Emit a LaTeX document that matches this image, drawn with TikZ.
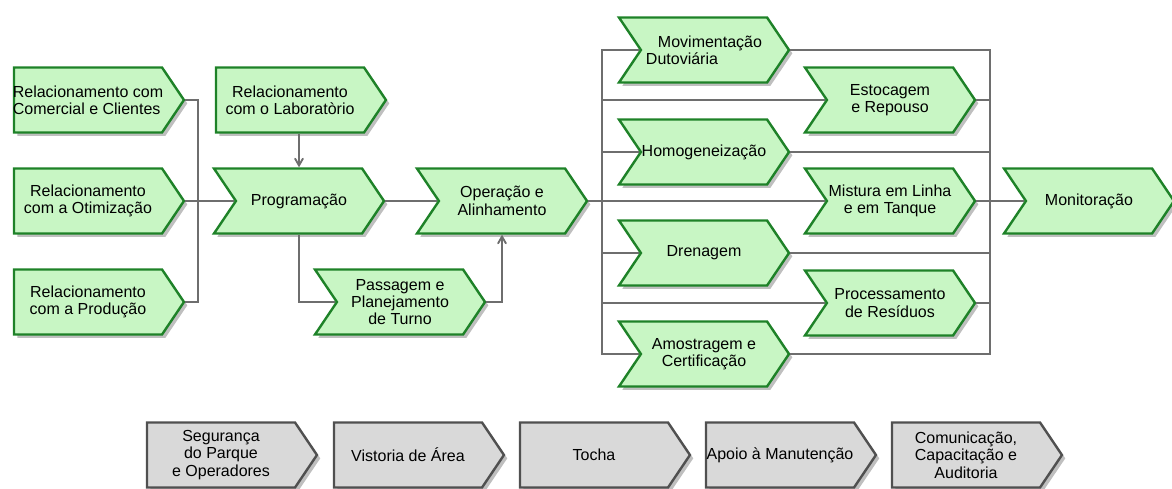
\documentclass[tikz,border=0pt]{standalone}
\usepackage{fontspec}
\setmainfont{Liberation Sans}
\usepackage{tikz}
\usetikzlibrary{shapes.symbols, shadows, arrows, positioning}

\definecolor{funcfill}{RGB}{200,246,196}
\definecolor{funcdraw}{RGB}{30,130,40}
\definecolor{suppfill}{RGB}{217,217,217}
\definecolor{suppdraw}{RGB}{80,80,80}
\definecolor{connline}{RGB}{110,110,110}

\tikzset{
  box/.style={signal, signal to=east, signal pointer angle=112,
    minimum width=127.5pt, minimum height=48.75pt, inner xsep=-14pt, inner ysep=1pt,
    line width=1.8pt, align=center, font=\fontsize{12}{13}\selectfont,
    drop shadow={shadow xshift=2.5pt, shadow yshift=-2.5pt, opacity=0.5}},
  func/.style={box, fill=funcfill, draw=funcdraw, signal from=west},
  funcfirst/.style={box, fill=funcfill, draw=funcdraw, signal from=nowhere},
  supp/.style={box, fill=suppfill, draw=suppdraw, signal from=nowhere},
  conn/.style={draw=connline, line width=1.4pt},
}

\begin{document}
\begin{tikzpicture}[x=0.75pt, y=-0.75pt, >=angle 60]
  \useasboundingbox (0,0) rectangle (1172,489);

  % inputs
  \node[funcfirst, align=left] (rcc) at (88,100) {Relacionamento com\\Comercial e Clientes};
  \node[funcfirst] (rot) at (88,201) {Relacionamento\\com a Otimização};
  \node[funcfirst] (rpr) at (88,302) {Relacionamento\\com a Produção};
  \node[funcfirst] (lab) at (290,100) {Relacionamento\\com o Laboratòrio};

  % planning
  \node[func] (prog) at (299,201) {Programação};
  \node[func] (pass) at (400,302) {Passagem e\\Planejamento\\de Turno};
  \node[func] (oper) at (502,201) {Operação e\\Alinhamento};

  % parallel activities
  \node[func, align=left] (mov) at (704,50) {\hspace{9pt}Movimentação\\Dutoviária};
  \node[func] (homo) at (704,152) {Homogeneização};
  \node[func] (dren) at (704,253) {Drenagem};
  \node[func] (amos) at (704,354) {Amostragem e\\Certificação};
  \node[func] (esto) at (890,100) {Estocagem\\e Repouso};
  \node[func] (mist) at (890,201) {Mistura em Linha\\e em Tanque};
  \node[func] (proc) at (890,303) {Processamento\\de Resíduos};
  \node[func] (moni) at (1089,201) {Monitoração};

  % support row
  \node[supp] (seg) at (221,455) {Segurança\\do Parque\\e Operadores};
  \node[supp] (vis) at (408,455) {Vistoria de Área};
  \node[supp] (toc) at (594,455) {Tocha};
  \node[supp] (apo) at (780,455) {Apoio à Manutenção};
  \node[supp] (com) at (966,455) {Comunicação,\\Capacitação e\\Auditoria};

  \coordinate (jl) at (198,201);
  \coordinate (jm) at (602,201);
  \coordinate (jr) at (990,201);

  \path[conn]
    (rcc.east) -| (jl) |- (rpr.east)
    (rot.east) -- (prog.west)
    (prog.east) -- (oper.west)
    (prog.south) |- (pass.west)
    (oper.east) -- (mist.west)
    (mov.west) -| (jm) |- (amos.west)
    (homo.west) -- (homo.west -| jm)
    (dren.west) -- (dren.west -| jm)
    (esto.west) -- (esto.west -| jm)
    (proc.west) -- (proc.west -| jm)
    (mov.east) -| (jr) |- (amos.east)
    (homo.east) -- (homo.east -| jr)
    (dren.east) -- (dren.east -| jr)
    (esto.east) -- (esto.east -| jr)
    (proc.east) -- (proc.east -| jr)
    (mist.east) -- (moni.west);
  \draw[conn, ->] (lab.south -| prog.north) -- (prog.north);
  \draw[conn, ->] (pass.east) -| (oper.south);
\end{tikzpicture}
\end{document}
